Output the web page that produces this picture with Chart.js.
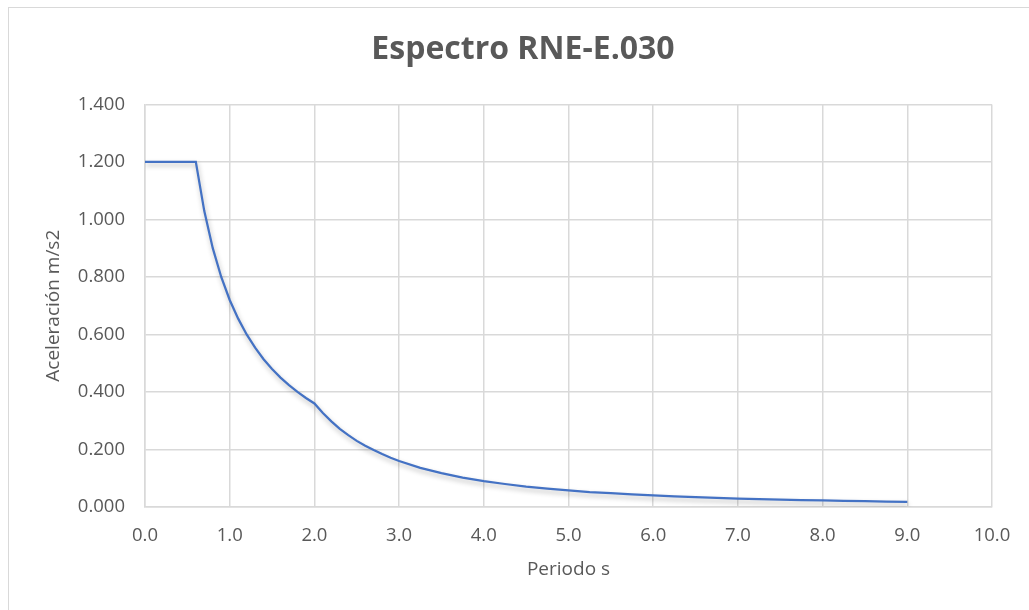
<!DOCTYPE html>
<html>
<head>
<meta charset="utf-8">
<script src="https://cdn.jsdelivr.net/npm/chart.js@4.4.1/dist/chart.umd.min.js"></script>
<style>
  html, body { margin: 0; padding: 0; background: #fff; overflow: hidden; }
  #wrap { position: relative; width: 1029px; height: 610px; }
  #frame { position: absolute; left: 8px; top: 7px; width: 1100px; height: 700px;
           border: 1.5px solid #d9d9d9; box-sizing: border-box; }
  canvas { position: absolute; left: 0; top: 0; }
</style>
</head>
<body>
<div id="wrap">
  <div id="frame"></div>
  <canvas id="myChart" width="1029" height="610"></canvas>
</div>
<script>
// Periodo T (s) y aceleración espectral
var periodo = [0, 0.6, 0.7, 0.8, 0.9, 1.0, 1.1, 1.2, 1.3, 1.4, 1.5, 1.6, 1.7, 1.8, 1.9, 2.0,
  2.1, 2.2, 2.3, 2.4, 2.5, 2.6, 2.7, 2.8, 2.9, 3.0, 3.25, 3.5, 3.75, 4.0, 4.25, 4.5, 4.75,
  5.0, 5.25, 5.5, 5.75, 6.0, 6.25, 6.5, 6.75, 7.0, 7.25, 7.5, 7.75, 8.0, 8.25, 8.5, 8.75, 9.0];
var aceleracion = [1.2, 1.2, 1.029, 0.9, 0.8, 0.72, 0.655, 0.6, 0.554, 0.514, 0.48, 0.45, 0.424, 0.4, 0.379, 0.36,
  0.327, 0.298, 0.272, 0.25, 0.23, 0.213, 0.198, 0.184, 0.171, 0.16, 0.136, 0.118, 0.102, 0.09, 0.08, 0.071, 0.064,
  0.058, 0.052, 0.048, 0.044, 0.04, 0.037, 0.034, 0.032, 0.029, 0.027, 0.026, 0.024, 0.023, 0.021, 0.02, 0.019, 0.018];
var xTicks = [0, 1, 2, 3, 4, 5, 6, 7, 8, 9, 10];
var yTicks = [0, 0.2, 0.4, 0.6, 0.8, 1.0, 1.2, 1.4];

var puntos = periodo.map(function(t, i) { return { x: t, y: aceleracion[i] }; });

var gris = '#595959';
var rejilla = '#d9d9d9';
var fuente = '"Open Sans", sans-serif';

// sombra suave bajo la línea, como en Excel
var sombra = {
  id: 'sombra',
  beforeDatasetsDraw: function(chart) {
    var c = chart.ctx;
    c.save();
    c.shadowColor = 'rgba(0,0,0,0.28)';
    c.shadowBlur = 5;
    c.shadowOffsetX = 1;
    c.shadowOffsetY = 3;
  },
  afterDatasetsDraw: function(chart) {
    chart.ctx.restore();
  }
};

var ctx = document.getElementById('myChart');
var myChart = new Chart(ctx, {
  type: 'scatter',
  data: {
    datasets: [{
      label: 'Espectro',
      data: puntos,
      showLine: true,
      borderColor: '#4472c4',
      borderWidth: 2.25,
      pointRadius: 0,
      tension: 0
    }]
  },
  plugins: [sombra],
  options: {
    responsive: false,
    animation: false,
    devicePixelRatio: 1,
    layout: { padding: { left: 54, right: 37, top: 0, bottom: 22 } },
    plugins: {
      legend: { display: false },
      tooltip: { enabled: false },
      title: {
        display: true,
        text: 'Espectro RNE-E.030',
        color: gris,
        font: { family: fuente, size: 32, weight: 'bold' },
        padding: { top: 31, bottom: 35 }
      }
    },
    scales: {
      x: {
        type: 'linear',
        min: 0,
        max: 10,
        afterBuildTicks: function(scale) {
          scale.ticks = xTicks.map(function(v) { return { value: v }; });
        },
        afterFit: function(scale) { scale.height = 81; },
        grid: { color: rejilla, lineWidth: 1.5, drawTicks: false },
        border: { color: rejilla, width: 1.5 },
        ticks: {
          color: gris,
          padding: 18,
          maxRotation: 0,
          font: { family: fuente, size: 18.5 },
          callback: function(value) { return Number(value).toFixed(1); }
        },
        title: {
          display: true,
          text: 'Periodo s',
          color: gris,
          font: { family: fuente, size: 19 },
          padding: { top: 0, bottom: 7 }
        }
      },
      y: {
        type: 'linear',
        min: 0,
        max: 1.4,
        afterBuildTicks: function(scale) {
          scale.ticks = yTicks.map(function(v) { return { value: v }; });
        },
        afterFit: function(scale) { scale.width = 91; },
        grid: { color: rejilla, lineWidth: 1.5, drawTicks: false },
        border: { color: rejilla, width: 1.5 },
        ticks: {
          color: gris,
          padding: 20,
          font: { family: fuente, size: 18.5 },
          callback: function(value) { return Number(value).toFixed(3); }
        },
        title: {
          display: true,
          text: 'Aceleración m/s2',
          color: gris,
          font: { family: fuente, size: 19 },
          padding: { top: -12, bottom: 0 }
        }
      }
    }
  }
});
</script>
</body>
</html>
